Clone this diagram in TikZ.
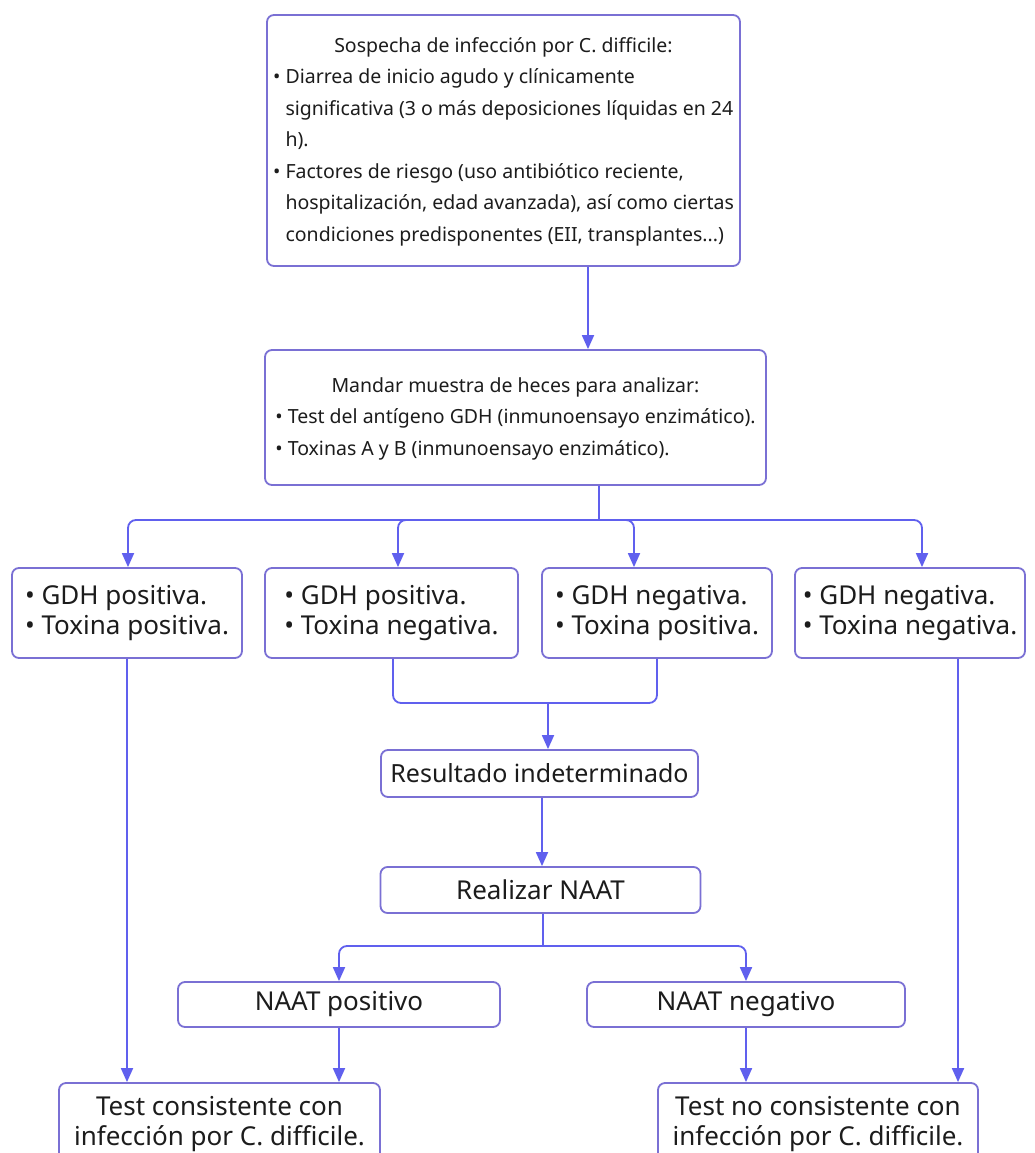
\documentclass[tikz,border=0pt]{standalone}
\usepackage{fontspec}
\setmainfont{Noto Sans}
\usepackage{xcolor}
\usetikzlibrary{arrows.meta, positioning}

\definecolor{boxline}{HTML}{7A70D4}
\definecolor{arrowline}{HTML}{6060EE}
\definecolor{txt}{HTML}{1C1C1C}

\newcommand{\bitem}{\textbullet\ }
\newcommand{\bcont}{\phantom{\textbullet\ }}

\begin{document}
\begin{tikzpicture}[x=1pt, y=-1pt]
\tikzstyle{box} = [rectangle, rounded corners=7pt, draw=boxline, line width=1.8pt, text=txt, align=center, inner sep=0pt, font=\fontsize{26}{30}\selectfont]
\tikzstyle{textbox} = [box, font=\fontsize{19.5}{31.5}\selectfont]
\tikzstyle{arrow} = [draw=arrowline, line width=1.8pt, rounded corners=8pt, -{Triangle[length=14pt,width=12pt]}]
\tikzstyle{link} = [draw=arrowline, line width=1.8pt, rounded corners=8pt]

\fill [white] (0,0) rectangle (1035,1153);
\useasboundingbox (0,0) rectangle (1035,1153);

% suspicion and sample
\node (sospecha) [textbox, minimum width=473, minimum height=251] at (503.5,140.5) {\begin{tabular}{@{}l@{}}
\multicolumn{1}{@{}c@{}}{Sospecha de infección por C. difficile:}\\
\bitem Diarrea de inicio agudo y clínicamente\\
\bcont significativa (3 o más deposiciones líquidas en 24\\
\bcont h).\\
\bitem Factores de riesgo (uso antibiótico reciente,\\
\bcont hospitalización, edad avanzada), así como ciertas\\
\bcont condiciones predisponentes (EII, transplantes...)
\end{tabular}};
\node (muestra) [textbox, minimum width=501, minimum height=135] at (515.5,417.5) {\begin{tabular}{@{}l@{}}
\multicolumn{1}{@{}c@{}}{Mandar muestra de heces para analizar:}\\
\bitem Test del antígeno GDH (inmunoensayo enzimático).\\
\bitem Toxinas A y B (inmunoensayo enzimático).
\end{tabular}};

% test results
\node (gpos) [box, minimum width=230, minimum height=90] at (127,613) {\begin{tabular}{@{}l@{}}\bitem GDH positiva.\\ \bitem Toxina positiva.\end{tabular}};
\node (gposneg) [box, minimum width=253, minimum height=90] at (391.5,613) {\begin{tabular}{@{}l@{}}\bitem GDH positiva.\\ \bitem Toxina negativa.\end{tabular}};
\node (gnegpos) [box, minimum width=230, minimum height=90] at (657,613) {\begin{tabular}{@{}l@{}}\bitem GDH negativa.\\ \bitem Toxina positiva.\end{tabular}};
\node (gneg) [box, minimum width=230, minimum height=90] at (910,613) {\begin{tabular}{@{}l@{}}\bitem GDH negativa.\\ \bitem Toxina negativa.\end{tabular}};

% indeterminate path
\node (res) [box, font=\fontsize{25}{30}\selectfont, minimum width=317, minimum height=47] at (539.5,773.5) {Resultado indeterminado};
\node (naat) [box, minimum width=320, minimum height=46] at (540.5,890) {Realizar NAAT};
\node (pos) [box, minimum width=322, minimum height=45] at (339,1004.5) {NAAT positivo};
\node (neg) [box, minimum width=318, minimum height=45] at (746,1004.5) {NAAT negativo};

% conclusions
\node (posres) [box, minimum width=321, minimum height=82] at (219.5,1124) {Test consistente con\\ infección por C. difficile.};
\node (negres) [box, minimum width=320, minimum height=82] at (818,1124) {Test no consistente con\\ infección por C. difficile.};

\coordinate (split1) at (599,520);
\coordinate (merge) at (548,703);
\coordinate (split2) at (543,946);
\coordinate (step1) at (542,800);

\draw [arrow] ([xshift=84.5]sospecha.south) -- ([xshift=84.5]sospecha.south |- muestra.north);
\draw [link] (muestra.south -| split1) -- (split1);
\draw [arrow] (split1) -| ([xshift=1]gpos.north);
\draw [arrow] (split1) -| ([xshift=6.5]gposneg.north);
\draw [arrow] (split1) -| ([xshift=-23]gnegpos.north);
\draw [arrow] (split1) -| ([xshift=12]gneg.north);

\draw [link] ([xshift=1.5]gposneg.south) |- (merge) -| (gnegpos.south);
\draw [arrow] (merge) -- (merge |- res.north);
\draw [arrow] (res.south -| step1) -- (naat.north -| step1);
\draw [link] (naat.south -| split2) -- (split2);
\draw [arrow] (split2) -| (pos.north);
\draw [arrow] (split2) -| (neg.north);

\draw [arrow] (gpos.south) -- (gpos.south |- posres.north);
\draw [arrow] ([xshift=48]gneg.south) -- ([xshift=48]gneg.south |- negres.north);
\draw [arrow] (pos.south) -- (pos.south |- posres.north);
\draw [arrow] (neg.south) -- (neg.south |- negres.north);
\end{tikzpicture}
\end{document}
